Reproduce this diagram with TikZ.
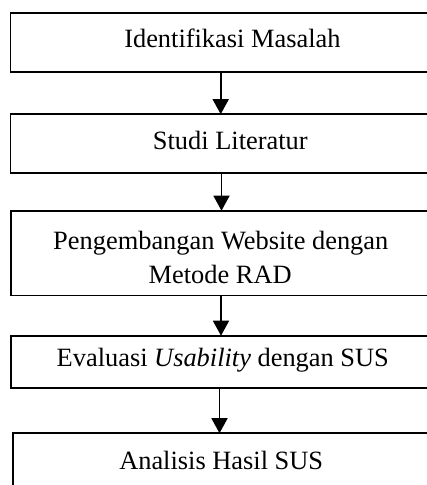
\documentclass[tikz,border=0pt]{standalone}
\usepackage{fontspec}
\setmainfont{Liberation Serif}
\usetikzlibrary{arrows.meta}
\begin{document}
\begin{tikzpicture}[x=1pt,y=-1pt,
  box/.style={draw, line width=1.6pt, inner sep=0pt, outer sep=0pt, anchor=north west, minimum width=470pt},
  lbl/.style={inner sep=0pt, anchor=base, font=\fontsize{26.4}{32}\selectfont},
  arr/.style={line width=1.6pt, -{Triangle[length=15pt,width=16pt]}}]
\useasboundingbox (0,0) rectangle (427,485);
\clip (0,0) rectangle (427,485);
\fill[white] (0,0) rectangle (427,485);
% boxes
\node[box, minimum height=59pt]   (b1) at (10.3,12.7) {};
\node[box, minimum height=58.5pt] (b2) at (10.3,114.2) {};
\node[box, minimum height=84.6pt] (b3) at (10.7,210.7) {};
\node[box, minimum height=52pt]   (b4) at (10.7,335.7) {};
\node[box, minimum height=80pt]   (b5) at (12.7,433.2) {};
% texts
\node[lbl] (t1)  at (232.4,47.7)  {Identifikasi Masalah};
\node[lbl] (t2)  at (230.3,149.2) {Studi Literatur};
\node[lbl] (t3a) at (220.8,249)   {Pengembangan Website dengan};
\node[lbl] (t3b) at (220.2,283)   {Metode RAD};
\node[lbl] (t4)  at (222.8,366.7) {Evaluasi \textit{Usability} dengan SUS};
\node[lbl] (t5)  at (221.2,469.4) {Analisis Hasil SUS};
% arrow columns
\coordinate (x1) at (220.7,0);
\coordinate (x2) at (221.5,0);
\coordinate (x3) at (221.0,0);
\coordinate (x4) at (219.5,0);
% connectors
\draw[arr] (b1.south -| x1) -- (b2.north -| x1);
\draw[arr] (b2.south -| x2) -- (b3.north -| x2);
\draw[arr] (b3.south -| x3) -- (b4.north -| x3);
\draw[arr] (b4.south -| x4) -- (b5.north -| x4);
\end{tikzpicture}
\end{document}
